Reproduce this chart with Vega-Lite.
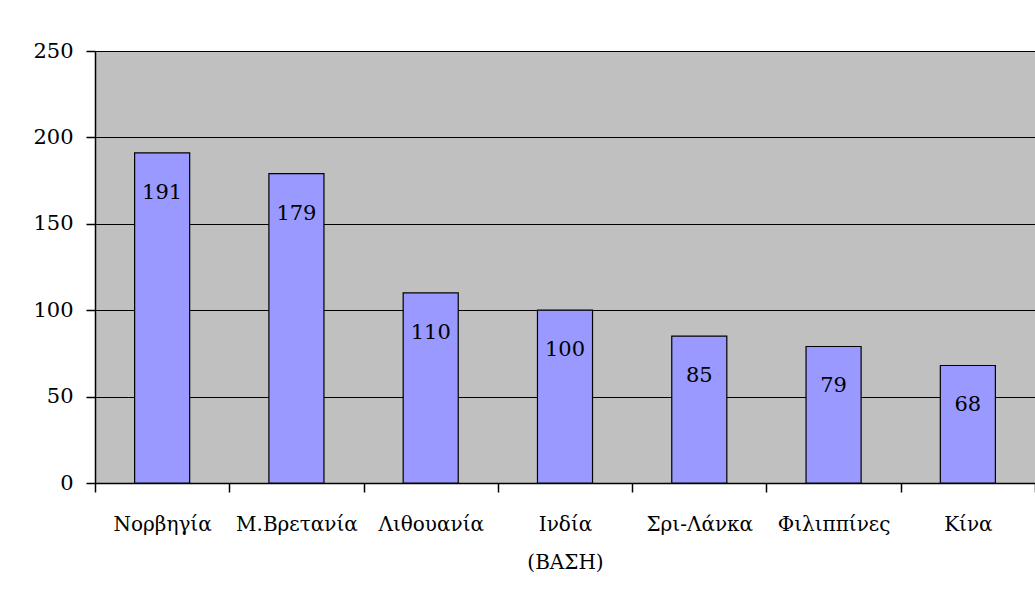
{
  "$schema": "https://vega.github.io/schema/vega-lite/v6.json",
  "width": 940,
  "height": 432,
  "autosize": {"type": "none"},
  "padding": {"left": 95, "top": 51, "right": 0, "bottom": 117},
  "background": "white",
  "config": {
    "view": {"fill": "#C0C0C0", "stroke": null},
    "font": "DejaVu Serif"
  },
  "data": {
    "values": [
      {"country": "Νορβηγία", "value": 191},
      {"country": "Μ.Βρετανία", "value": 179},
      {"country": "Λιθουανία", "value": 110},
      {"country": "Ινδία (ΒΑΣΗ)", "value": 100},
      {"country": "Σρι-Λάνκα", "value": 85},
      {"country": "Φιλιππίνες", "value": 79},
      {"country": "Κίνα", "value": 68}
    ]
  },
  "encoding": {
    "x": {
      "field": "country",
      "type": "nominal",
      "sort": null,
      "scale": {"paddingInner": 0, "paddingOuter": 0},
      "axis": {
        "title": null,
        "labelAngle": 0,
        "labelExpr": "split(datum.label, ' ')",
        "labelFont": "DejaVu Serif",
        "labelFontSize": 20,
        "labelFontWeight": "normal",
        "labelColor": "black",
        "labelLineHeight": 38,
        "labelPadding": 22,
        "labelBaseline": "top",
        "ticks": true,
        "tickBand": "extent",
        "tickSize": 9,
        "tickWidth": 1.5,
        "tickColor": "black",
        "domainColor": "black",
        "domainWidth": 1.5,
        "grid": false
      }
    },
    "y": {
      "field": "value",
      "type": "quantitative",
      "scale": {"domain": [0, 250], "nice": false},
      "axis": {
        "title": null,
        "values": [0, 50, 100, 150, 200, 250],
        "labelFont": "DejaVu Serif",
        "labelFontSize": 21,
        "labelColor": "black",
        "labelPadding": 13,
        "ticks": true,
        "tickSize": 9,
        "tickWidth": 1.5,
        "tickColor": "black",
        "domainColor": "black",
        "domainWidth": 1.5,
        "grid": true,
        "gridColor": "black",
        "gridOpacity": 1
      }
    }
  },
  "layer": [
    {
      "mark": {"type": "bar", "fill": "#9999FF", "stroke": "black", "strokeWidth": 1.2, "width": {"band": 0.41}}
    },
    {
      "mark": {"type": "text", "dy": 40, "baseline": "middle", "fontSize": 21, "font": "DejaVu Serif", "color": "black"},
      "encoding": {"text": {"field": "value", "type": "quantitative"}}
    }
  ]
}
